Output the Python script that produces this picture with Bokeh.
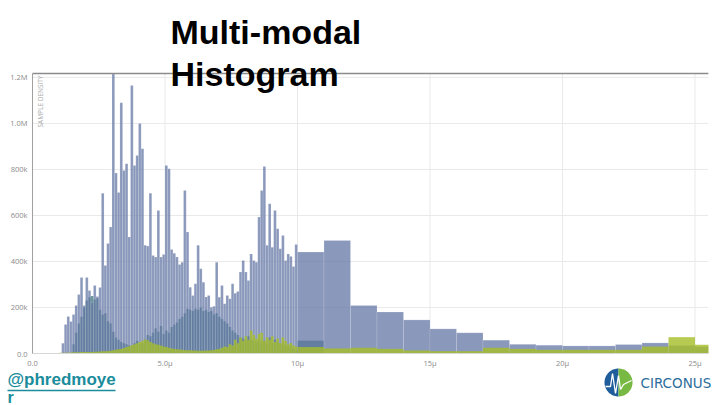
import numpy as np
from bokeh.plotting import figure
from bokeh.models import (ColumnDataSource, Label, FixedTicker, BoxAnnotation, Range1d)
from bokeh.embed import file_html
from bokeh.resources import INLINE

# ---------------- data (sample density, thousands) ----------------
# fine bins: 0.1 µs wide, starting at 1.0 µs
fine_start = 1.0
fine_width = 0.1
series_a_fine = [
    0, 45, 126, 161, 139, 170, 209, 256, 330, 209,
    330, 274, 222, 296, 248, 287, 696, 383, 478, 550,
    1215, 784, 700, 1090, 795, 825, 506, 1165, 817, 861,
    1000, 890, 470, 467, 697, 426, 419, 622, 419, 430,
    817, 803, 452, 436, 419, 387, 397, 709, 528, 288,
    252, 303, 470, 368, 310, 246, 252, 201, 205, 397,
    245, 296, 216, 252, 238, 303, 262, 270, 354, 404,
    354, 317, 433, 404, 397, 593, 709, 813, 470, 651,
    462, 622, 542, 455, 513, 404, 433, 422, 378, 474,
]
series_b_fine = [
    0, 0, 0, 0, 0, 40, 90, 130, 160, 200,
    230, 245, 250, 235, 240, 190, 170, 175, 140, 130,
    95, 70, 60, 50, 45, 40, 35, 30, 45, 55,
    40, 45, 60, 80, 75, 90, 110, 95, 120, 85,
    100, 90, 115, 125, 135, 150, 160, 175, 195, 190,
    185, 195, 190, 200, 185, 190, 180, 185, 170, 175,
    160, 150, 140, 130, 115, 100, 90, 80, 70, 65,
    60, 75, 60, 55, 50, 60, 45, 55, 40, 70,
    45, 60, 50, 40, 45, 35, 30, 35, 20, 15,
]
series_c_fine = [
    3, 3, 3, 4, 4, 5, 5, 5, 6, 6,
    6, 7, 7, 8, 8, 9, 10, 10, 11, 12,
    14, 16, 18, 20, 24, 28, 32, 36, 40, 45,
    50, 55, 61, 58, 50, 45, 40, 38, 35, 30,
    28, 25, 22, 20, 18, 17, 16, 15, 14, 14,
    13, 13, 12, 12, 12, 13, 13, 14, 15, 18,
    20, 25, 30, 28, 40, 35, 60, 45, 70, 55,
    75, 60, 100, 80, 65, 85, 90, 55, 70, 60,
    75, 50, 65, 45, 70, 55, 40, 45, 35, 30,
]
# coarse bins: 1 µs wide, starting at 10 µs
coarse_start = 10.0
coarse_width = 1.0
series_a_coarse = [441, 491, 209, 180, 146, 107, 90, 58, 40, 36, 33, 33, 39, 46, 35, 30]
series_b_coarse = [56, 0, 0, 0, 0, 0, 0, 0, 0, 0, 0, 0, 0, 0, 0, 0]
series_c_coarse = [28, 22, 25, 20, 13, 10, 10, 25, 20, 16, 16, 16, 16, 30, 71, 38]

x_ticks = [0, 5, 10, 15, 20, 25]
x_tick_labels = ["0.0", "5.0\u03bc", "10\u03bc", "15\u03bc", "20\u03bc", "25\u03bc"]
y_ticks = [0, 200000, 400000, 600000, 800000, 1000000, 1200000]
y_tick_labels = ["0.0", "200k", "400k", "600k", "800k", "1.0M", "1.2M"]

# ---------------- layout constants ----------------
W, H = 720, 405
FL, FR, FT, FB = 32, 708, 73, 353          # chart box in pixels
PX_PER_US = 26.5
X_END = (FR - FL) / PX_PER_US
Y_END = 1.217e6
PX_PER_UNIT_Y = (FB - FT) / Y_END

A_COLOR, B_COLOR, C_COLOR = "#6376a4", "#28696e", "#a5be28"


def sx(px):
    return (px - FL) / PX_PER_US


def sy(py):
    return (FB - py) / PX_PER_UNIT_Y


def centers(start, width, n):
    return [start + width * (i + 0.5) for i in range(n)]


fine = ColumnDataSource(dict(
    x=centers(fine_start, fine_width, len(series_a_fine)),
    a=[v * 1000 for v in series_a_fine],
    b=[v * 1000 for v in series_b_fine],
    c=[v * 1000 for v in series_c_fine],
))
coarse = ColumnDataSource(dict(
    x=centers(coarse_start, coarse_width, len(series_a_coarse)),
    a=[v * 1000 for v in series_a_coarse],
    b=[v * 1000 for v in series_b_coarse],
    c=[v * 1000 for v in series_c_coarse],
))

# the frame covers the whole canvas; axes are pinned inside it
p = figure(width=W, height=H, output_backend="svg", toolbar_location=None,
           x_range=Range1d(sx(0), sx(W)), y_range=Range1d(sy(H), sy(0)),
           min_border_left=0, min_border_right=0, min_border_top=0, min_border_bottom=0)
p.outline_line_color = None
p.background_fill_color = "white"
p.border_fill_color = "white"
p.xgrid.visible = False
p.ygrid.visible = False

# grid lines limited to the chart box
p.segment(x0=x_ticks[1:], x1=x_ticks[1:], y0=0, y1=Y_END, line_color="#e9e9e9", line_width=1)
p.segment(x0=0, x1=X_END, y0=y_ticks[1:], y1=y_ticks[1:], line_color="#e9e9e9", line_width=1)

for src, w in ((fine, fine_width), (coarse, coarse_width)):
    p.vbar(x="x", width=w, top="b", bottom=0, source=src,
           fill_color=B_COLOR, fill_alpha=0.7, line_color=None)
    p.vbar(x="x", width=w, top="a", bottom=0, source=src,
           fill_color=A_COLOR, fill_alpha=0.75, line_color="white",
           line_alpha=0.3, line_width=0.5)
    p.vbar(x="x", width=w, top="c", bottom=0, source=src,
           fill_color=C_COLOR, fill_alpha=0.8, line_color=None)

# the chart box ends at the right edge of the x range: mask what lies beyond
p.add_layout(BoxAnnotation(left=X_END, right=sx(W), bottom=sy(FB + 1), top=Y_END,
                           fill_color="white", fill_alpha=1, line_color=None))

# top border line of the chart
p.segment(x0=0, x1=X_END, y0=Y_END, y1=Y_END, line_color="#8c8c8c", line_width=1.5)

# axes
for ax in (p.xaxis, p.yaxis):
    ax.fixed_location = 0
    ax.major_tick_line_color = None
    ax.minor_tick_line_color = None
    ax.major_tick_out = 0
    ax.major_tick_in = 0
    ax.minor_tick_out = 0
    ax.major_label_text_font = "Open Sans"
    ax.major_label_text_font_size = "7.5px"
    ax.major_label_text_color = "#8a8a8a"
p.xaxis.ticker = FixedTicker(ticks=x_ticks)
p.xaxis.major_label_overrides = {t: l for t, l in zip(x_ticks, x_tick_labels)}
p.xaxis.axis_line_color = "#d6d6d6"
p.xaxis.bounds = (0, X_END)
p.xaxis.major_label_standoff = 4
p.yaxis.ticker = FixedTicker(ticks=y_ticks)
p.yaxis.major_label_overrides = {t: l for t, l in zip(y_ticks, y_tick_labels)}
p.yaxis.axis_line_color = "#a0a0a0"
p.yaxis.bounds = (0, Y_END)
p.yaxis.major_label_standoff = 5

p.add_layout(Label(x=sx(35), y=sy(75), text="SAMPLE DENSITY", angle=np.pi / 2,
                   text_align="right", text_baseline="top", text_font="Open Sans",
                   text_font_size="6.5px", text_color="#a8a8a8"))

# slide title
for txt, mid in (("Multi-modal", 31), ("Histogram", 73)):
    p.add_layout(Label(x=sx(170), y=sy(mid), text=txt, text_font="Liberation Sans",
                       text_font_size="34px", text_font_style="bold",
                       text_color="black", text_baseline="middle"))

# handle
HANDLE = "#1a8c9c"
p.add_layout(Label(x=sx(7), y=sy(379), text="@phredmoye", text_font="Liberation Sans",
                   text_font_size="17px", text_font_style="bold", text_color=HANDLE,
                   text_baseline="middle"))
p.add_layout(Label(x=sx(7), y=sy(396.5), text="r", text_font="Liberation Sans",
                   text_font_size="16px", text_font_style="bold", text_color=HANDLE,
                   text_baseline="middle"))
p.segment(x0=sx(7), x1=sx(115), y0=sy(390), y1=sy(390), line_color=HANDLE, line_width=1.5)

# logo
cx, cy, r = 618, 382, 14
ang_l = np.linspace(np.pi / 2, 3 * np.pi / 2, 40)
ang_r = np.linspace(-np.pi / 2, np.pi / 2, 40)
p.patch(x=[sx(cx + r * np.cos(a)) for a in ang_l], y=[sy(cy - r * np.sin(a)) for a in ang_l],
        fill_color="#1f5c9c", line_color=None)
p.patch(x=[sx(cx + r * np.cos(a)) for a in ang_r], y=[sy(cy - r * np.sin(a)) for a in ang_r],
        fill_color="#78b943", line_color=None)
beat = [(605, 386), (610, 386), (612, 373), (615, 393), (618, 375), (620, 389), (623, 384), (631, 380)]
p.line(x=[sx(x) for x, _ in beat], y=[sy(y) for _, y in beat], line_color="white", line_width=1.3)
p.add_layout(Label(x=sx(640), y=sy(382), text="CIRCONUS", text_font="DejaVu Sans",
                   text_font_size="13.5px", text_color="#2c6e9c", text_baseline="middle"))

open("out.html", "w").write(file_html(p, INLINE))
